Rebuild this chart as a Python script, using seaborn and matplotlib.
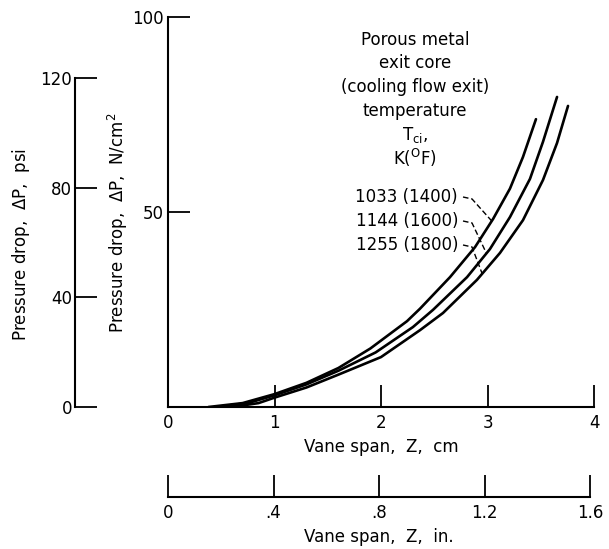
import matplotlib
matplotlib.use('Agg')
import matplotlib.pyplot as plt
import numpy as np
import pandas as pd
import seaborn as sns

# curves: vane span Z (cm) vs pressure drop (N/cm^2)
z_1033 = [0.38, 0.7, 1.0, 1.3, 1.6, 1.9, 2.244, 2.366, 2.648, 2.883, 3.052, 3.211, 3.333, 3.455]
p_1033 = [0.0, 1.0, 3.3, 6.2, 10.0, 15.0, 22.0, 25.2, 33.3, 41.0, 48.2, 56.0, 64.1, 73.8]
z_1144 = [0.45, 0.75, 1.0, 1.3, 1.6, 1.95, 2.3, 2.488, 2.808, 3.023, 3.211, 3.399, 3.521, 3.653]
p_1144 = [0.0, 1.0, 3.0, 5.8, 9.3, 14.0, 20.5, 24.9, 33.3, 40.5, 48.7, 58.5, 68.0, 79.5]
z_1255 = [0.6, 0.85, 1.0, 1.3, 1.6, 2.0, 2.366, 2.582, 2.901, 3.117, 3.333, 3.521, 3.653, 3.756]
p_1255 = [0.0, 1.0, 2.4, 5.0, 8.3, 12.8, 19.7, 24.1, 32.6, 39.5, 47.9, 58.2, 67.7, 77.2]

labels = ['1033 (1400)', '1144 (1600)', '1255 (1800)']
lead_z = [3.04, 2.99, 2.95]

cm_ticks = [0, 1, 2, 3, 4]
in_ticks = [0, 0.4, 0.8, 1.2, 1.6]
in_ticklabels = ['0', '.4', '.8', '1.2', '1.6']
psi_ticks = [0, 40, 80, 120]

df = pd.concat([
    pd.DataFrame({'Z': z_1033, 'P': p_1033, 'T': labels[0]}),
    pd.DataFrame({'Z': z_1144, 'P': p_1144, 'T': labels[1]}),
    pd.DataFrame({'Z': z_1255, 'P': p_1255, 'T': labels[2]}),
])

sns.set_style('white')
plt.rcParams['font.family'] = ['Liberation Sans Narrow', 'DejaVu Sans']
plt.rcParams['mathtext.fontset'] = 'custom'
plt.rcParams['mathtext.rm'] = 'Liberation Sans Narrow'
plt.rcParams['mathtext.it'] = 'Liberation Sans Narrow'
plt.rcParams['text.color'] = 'black'
plt.rcParams['axes.labelcolor'] = 'black'
FS = 12

W, H = 609, 549
fig = plt.figure(figsize=(W / 100, H / 100), dpi=100)


def fx(px):
    return px / W


def fy(py):
    return 1 - py / H


# main axes (N/cm^2 vs cm)
ax = fig.add_axes([fx(168), fy(407), (594 - 168) / W, 390 / H])
sns.lineplot(data=df, x='Z', y='P', hue='T', palette=['black'] * 3,
             estimator=None, sort=False, legend=False, linewidth=1.9, ax=ax)
ax.set_xlim(0, 4)
ax.set_ylim(0, 100)
ax.set_xticks(cm_ticks)
ax.set_yticks([50, 100])
ax.tick_params(axis='both', direction='in', length=16, width=1.3,
               labelsize=FS, colors='black', left=True, bottom=True)
ax.tick_params(axis='y', pad=3)
ax.tick_params(axis='x', pad=5)
for s in ['top', 'right']:
    ax.spines[s].set_visible(False)
for s in ['left', 'bottom']:
    ax.spines[s].set_linewidth(1.5)
    ax.spines[s].set_color('black')
ax.set_xlabel('Vane span,  Z,  cm', fontsize=FS, labelpad=4)
ax.set_ylabel('')
fig.text(fx(118), fy(223), 'Pressure drop,  $\\Delta$P,  N/cm$^2$', rotation=90,
         ha='center', va='center', fontsize=FS)

# description text
txt = ['Porous metal', 'exit core', '(cooling flow exit)', 'temperature']
for i, t in enumerate(txt):
    fig.text(fx(415), fy(40 + 23.5 * i), t, ha='center', va='center', fontsize=FS)
fig.text(fx(415), fy(135), 'T$_{\\mathrm{ci}}$,', ha='center', va='center', fontsize=FS)
fig.text(fx(415), fy(158), 'K($^{\\mathrm{O}}$F)', ha='center', va='center', fontsize=FS)

curves = [(z_1033, p_1033), (z_1144, p_1144), (z_1255, p_1255)]
label_y = [197, 221, 245]
for lab, ly, lz, (zz, pp) in zip(labels, label_y, lead_z, curves):
    fig.text(fx(458), fy(ly), lab, ha='right', va='center', fontsize=FS)
    y0 = (407 - ly) / 3.9
    x0 = (463 - 168) / 106.5
    x1 = (472 - 168) / 106.5
    pz = np.interp(lz, zz, pp)
    ax.plot([x0, x1, lz], [y0, y0 - 0.5, pz], color='black', lw=1.0, ls=(0, (4, 2)))

# psi axis
ax_psi = fig.add_axes([fx(75), fy(407), 0.0001, (407 - 78) / H])
ax_psi.set_ylim(0, 120)
ax_psi.set_yticks(psi_ticks)
ax_psi.set_xticks([])
ax_psi.tick_params(axis='y', direction='in', length=16, width=1.3, pad=2,
                   labelsize=FS, colors='black', left=True)
for s in ['top', 'right', 'bottom']:
    ax_psi.spines[s].set_visible(False)
ax_psi.spines['left'].set_linewidth(1.5)
ax_psi.spines['left'].set_color('black')
ax_psi.patch.set_visible(False)
fig.text(fx(21), fy(245), 'Pressure drop,  $\\Delta$P,  psi', rotation=90,
         ha='center', va='center', fontsize=FS)

# inch axis
ax_in = fig.add_axes([fx(168), fy(497), (590 - 168) / W, 0.0001])
ax_in.set_xlim(0, 1.6)
ax_in.set_xticks(in_ticks)
ax_in.set_xticklabels(in_ticklabels)
ax_in.set_yticks([])
ax_in.tick_params(axis='x', direction='in', length=16, width=1.3, pad=5,
                  labelsize=FS, colors='black', bottom=True)
for s in ['top', 'right', 'left']:
    ax_in.spines[s].set_visible(False)
ax_in.spines['bottom'].set_linewidth(1.5)
ax_in.spines['bottom'].set_color('black')
ax_in.patch.set_visible(False)
ax_in.set_xlabel('Vane span,  Z,  in.', fontsize=FS, labelpad=4)

fig.savefig('out.png', dpi=100)
